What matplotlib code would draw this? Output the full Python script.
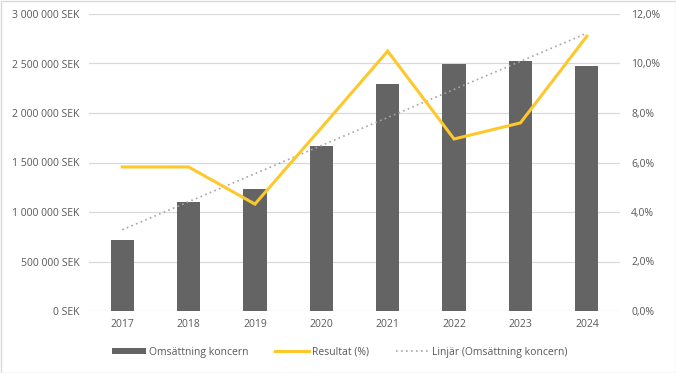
import matplotlib
matplotlib.use("Agg")
import matplotlib.pyplot as plt
import numpy as np
from matplotlib.patches import Rectangle, Patch
from matplotlib.lines import Line2D
from matplotlib.ticker import FuncFormatter, MultipleLocator

years = ["2017", "2018", "2019", "2020", "2021", "2022", "2023", "2024"]
omsattning = [720000, 1100000, 1230000, 1667000, 2290000, 2495000, 2525000, 2475000]
resultat_pct = [5.82, 5.82, 4.32, 7.4, 10.5, 6.95, 7.6, 11.1]

plt.rcParams['font.family'] = ['Open Sans', 'DejaVu Sans']
txt_color = "#595959"
fs = 7.5

fig = plt.figure(figsize=(6.76, 3.73), dpi=100)
ax = fig.add_axes([89/676, 1-311/373, (620-89)/676, (311-14)/373])

x = np.arange(len(years))
ax.bar(x, omsattning, width=0.35, color="#636463", zorder=2)

# linear trend of revenue
coef = np.polyfit(x, omsattning, 1)
trend = np.polyval(coef, x)
ax.plot(x, trend, color="#A6A6A6", lw=1.2, linestyle=(0, (1, 2)), zorder=3)

ax.set_xlim(-0.5, len(years) - 0.5)
ax.set_ylim(0, 3000000)
ax.yaxis.set_major_locator(MultipleLocator(500000))
ax.yaxis.set_major_formatter(FuncFormatter(lambda v, p: f"{int(round(v)):,}".replace(",", " ") + " SEK"))
ax.set_xticks(x)
ax.set_xticklabels(years)
ax.grid(axis='y', color="#D9D9D9", lw=0.9, zorder=0)
ax.set_axisbelow(True)
for s in ax.spines.values():
    s.set_visible(False)
ax.tick_params(axis='both', length=0, labelsize=fs, labelcolor=txt_color)
ax.tick_params(axis='y', pad=7)
ax.tick_params(axis='x', pad=6)

ax2 = ax.twinx()
ax2.plot(x, resultat_pct, color="#FCC82B", lw=2.2, zorder=4, solid_joinstyle='miter')
ax2.set_ylim(0, 12)
ax2.yaxis.set_major_locator(MultipleLocator(2))
ax2.yaxis.set_major_formatter(FuncFormatter(lambda v, p: f"{v:.1f}".replace(".", ",") + "%"))
for s in ax2.spines.values():
    s.set_visible(False)
ax2.tick_params(axis='y', length=0, labelsize=fs, labelcolor=txt_color, pad=8)

handles = [
    Patch(facecolor="#636463", edgecolor="none"),
    Line2D([], [], color="#FCC82B", lw=2.2),
    Line2D([], [], color="#A6A6A6", lw=1.2, linestyle=(0, (1, 2))),
]
labels = ["Omsättning koncern", "Resultat (%)", "Linjär (Omsättning koncern)"]
leg = fig.legend(handles, labels, loc='center', bbox_to_anchor=(340/676, 1-352/373), ncol=3,
                 frameon=False, fontsize=fs, handlelength=3.2, handleheight=0.55,
                 handletextpad=0.3, columnspacing=2.6, labelcolor=txt_color)

fig.patches.append(Rectangle((0.5/676, 0.5/373), 1-1/676, 1-1/373, transform=fig.transFigure,
                             fill=False, edgecolor="#D9D9D9", lw=1))

fig.savefig("out.png", dpi=100)
